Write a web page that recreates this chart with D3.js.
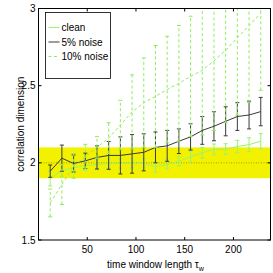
<!DOCTYPE html>
<html>
<head>
<meta charset="utf-8">
<script src="https://cdn.jsdelivr.net/npm/d3@7"></script>
<style>
  body { margin: 0; background: #fff; }
  svg text { font-family: "Liberation Sans", Arial, sans-serif; fill: #000; }
</style>
</head>
<body>
<svg id="chart"></svg>
<script>
// --> data <--
const tau = [12, 24, 36, 48, 60, 72, 84, 96, 108, 120, 132, 144, 156, 168, 180, 192, 204, 216, 228];

const cleanMean = [1.90, 1.95, 1.97, 1.98, 1.99, 1.995, 1.995, 1.997, 1.997, 1.975, 1.99, 2.01, 2.04, 2.065, 2.087, 2.089, 2.106, 2.118, 2.14];
const cleanErr = [0.05, 0.04, 0.035, 0.03, 0.03, 0.03, 0.03, 0.03, 0.03, 0.035, 0.03, 0.03, 0.035, 0.035, 0.035, 0.035, 0.04, 0.045, 0.05];

const noise5Mean = [1.946, 2.03, 1.996, 2.013, 2.035, 2.048, 2.048, 2.058, 2.068, 2.10, 2.11, 2.14, 2.168, 2.21, 2.237, 2.269, 2.30, 2.31, 2.332];
const noise5Err = [0.04, 0.085, 0.055, 0.05, 0.075, 0.09, 0.12, 0.125, 0.12, 0.10, 0.10, 0.08, 0.085, 0.09, 0.094, 0.094, 0.09, 0.09, 0.092];

const noise10Mean = [1.74, 1.86, 1.98, 2.04, 2.10, 2.16, 2.245, 2.33, 2.39, 2.43, 2.475, 2.515, 2.56, 2.60, 2.66, 2.73, 2.81, 2.89, 2.97];
const noise10Err = [0.09, 0.13, 0.08, 0.08, 0.07, 0.10, 0.16, 0.24, 0.29, 0.33, 0.345, 0.375, 0.39, 0.42, 0.45, 0.47, 0.5, 0.5, 0.5];

const xTicks = [50, 100, 150, 200];
const yTicks = [1.5, 2, 2.5, 3];
const band = [1.9, 2.1];
const target = 2;

const legendLabels = ["clean", "5% noise", "10% noise"];

// --> layout <--
const width = 273, height = 273;
const margin = { top: 8.5, right: 2.5, bottom: 33, left: 38.5 };

const svg = d3.select("#chart").attr("width", width).attr("height", height);

const x = d3.scaleLinear().domain([0, 238]).range([margin.left, width - margin.right]);
const y = d3.scaleLinear().domain([1.5, 3]).range([height - margin.bottom, margin.top]);

const green = "#9cf26a";
const green10 = "#8fec5c";

svg.append("defs").append("clipPath").attr("id", "plotClip")
  .append("rect")
  .attr("x", x(0)).attr("y", y(3))
  .attr("width", x(238) - x(0)).attr("height", y(1.5) - y(3));

const plot = svg.append("g").attr("clip-path", "url(#plotClip)");

// yellow tolerance band and dotted target
plot.append("rect")
  .attr("x", x(0)).attr("width", x(238) - x(0))
  .attr("y", y(band[1])).attr("height", y(band[0]) - y(band[1]))
  .attr("fill", "#f2f200");

plot.append("line")
  .attr("x1", x(0)).attr("x2", x(238))
  .attr("y1", y(target)).attr("y2", y(target))
  .attr("stroke", "#8c8c00").attr("stroke-width", 0.8).attr("stroke-dasharray", "1,1.5");

// errorbar series
const drawSeries = (mean, err, color, dash, width) => {
  const data = tau.map((t, i) => ({ t, m: mean[i], e: err[i] }));
  const g = plot.append("g").attr("stroke", color).attr("fill", "none").attr("stroke-width", width);
  const cap = 2;

  g.selectAll("line.bar").data(data).join("line")
    .attr("class", "bar")
    .attr("x1", (d) => x(d.t)).attr("x2", (d) => x(d.t))
    .attr("y1", (d) => y(d.m - d.e)).attr("y2", (d) => y(d.m + d.e))
    .attr("stroke-dasharray", dash);

  ["lo", "hi"].forEach((k) => {
    g.selectAll("line.cap" + k).data(data).join("line")
      .attr("class", "cap" + k)
      .attr("x1", (d) => x(d.t) - cap).attr("x2", (d) => x(d.t) + cap)
      .attr("y1", (d) => y(k === "lo" ? d.m - d.e : d.m + d.e))
      .attr("y2", (d) => y(k === "lo" ? d.m - d.e : d.m + d.e));
  });

  g.append("path")
    .datum(data)
    .attr("d", d3.line().x((d) => x(d.t)).y((d) => y(d.m)))
    .attr("stroke-dasharray", dash);
};

drawSeries(cleanMean, cleanErr, green, null, 1);
drawSeries(noise5Mean, noise5Err, "#3a3a3a", null, 1);
drawSeries(noise10Mean, noise10Err, green10, "3,2.5", 1);

// axes box
const axes = svg.append("g");
axes.append("rect")
  .attr("x", x(0)).attr("y", y(3))
  .attr("width", x(238) - x(0)).attr("height", y(1.5) - y(3))
  .attr("fill", "none").attr("stroke", "#000").attr("stroke-width", 1);

const tickLen = 3;
xTicks.forEach((t) => {
  axes.append("line").attr("x1", x(t)).attr("x2", x(t)).attr("y1", y(1.5)).attr("y2", y(1.5) - tickLen).attr("stroke", "#000");
  axes.append("line").attr("x1", x(t)).attr("x2", x(t)).attr("y1", y(3)).attr("y2", y(3) + tickLen).attr("stroke", "#000");
  axes.append("text").attr("x", x(t)).attr("y", y(1.5) + 13).attr("text-anchor", "middle")
    .attr("font-size", 10).text(t);
});
yTicks.forEach((t) => {
  axes.append("line").attr("x1", x(0)).attr("x2", x(0) + tickLen).attr("y1", y(t)).attr("y2", y(t)).attr("stroke", "#000");
  axes.append("line").attr("x1", x(238)).attr("x2", x(238) - tickLen).attr("y1", y(t)).attr("y2", y(t)).attr("stroke", "#000");
  axes.append("text").attr("x", x(0) - 3).attr("y", y(t) + 3.5).attr("text-anchor", "end")
    .attr("font-size", 10).text(t);
});

// axis labels
const xl = svg.append("text").attr("x", x(120)).attr("y", 268).attr("text-anchor", "middle").attr("font-size", 10);
xl.append("tspan").text("time window length \u03c4");
xl.append("tspan").attr("font-size", 7).attr("dy", 2.5).text("w");

svg.append("text")
  .attr("transform", `translate(24, ${y(2.25)}) rotate(-90)`)
  .attr("text-anchor", "middle").attr("font-size", 10)
  .text("correlation dimension");

// legend
const legend = svg.append("g").attr("transform", "translate(45.5, 12.5)");
legend.append("rect").attr("width", 65).attr("height", 66).attr("fill", "#fff").attr("stroke", "#000").attr("stroke-width", 0.8);
const legendStyles = [
  { color: green, dash: null },
  { color: "#3a3a3a", dash: null },
  { color: green10, dash: "3,2.5" },
];
legendLabels.forEach((label, i) => {
  const yy = 15 + i * 14.5;
  legend.append("line").attr("x1", 3).attr("x2", 14).attr("y1", yy).attr("y2", yy)
    .attr("stroke", legendStyles[i].color).attr("stroke-width", 1)
    .attr("stroke-dasharray", legendStyles[i].dash);
  legend.append("text").attr("x", 16).attr("y", yy + 3.5).attr("font-size", 10).text(label);
});
</script>
</body>
</html>
